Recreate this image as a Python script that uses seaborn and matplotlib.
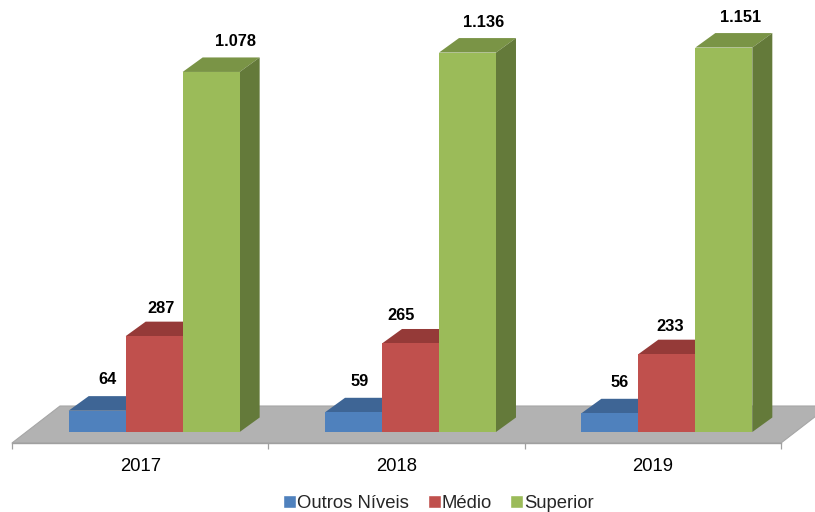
import pandas as pd
import matplotlib
matplotlib.use("Agg")
import matplotlib.pyplot as plt
from matplotlib.patches import Polygon
import seaborn as sns

years = ["2017", "2018", "2019"]
niveis = ["Outros Níveis", "Médio", "Superior"]
outros = [64, 59, 56]
medio = [287, 265, 233]
superior = [1078, 1136, 1151]

front_colors = ["#4F81BD", "#C0504D", "#9BBB59"]
top_colors = ["#3E6595", "#953A38", "#7A9446"]
side_colors = ["#355680", "#7F3230", "#647A3A"]

# hand placed labels in the original, offsets in pixels from bar centre
label_dx = [[10, 6, 10], [7, -9, 3], [24, 16, 17]]
label_dy = [31, 28, 30]

df = pd.DataFrame({
    "ano": years * 3,
    "nivel": [n for n in niveis for _ in years],
    "valor": outros + medio + superior,
})

sns.set_theme(style="white")
plt.rcParams["font.family"] = ["Liberation Sans", "DejaVu Sans"]

W, H = 815, 512
fig = plt.figure(figsize=(W / 100, H / 100), dpi=100)
ax = fig.add_axes([12 / W, (H - 443) / H, 769 / W, 443 / H])

sns.barplot(data=df, x="ano", y="valor", hue="nivel", order=years, hue_order=niveis,
            palette=front_colors, width=0.667, gap=0, saturation=1, ax=ax)

# pixel sizes in data units
px_x = 3 / 769
px_y = 1 / 0.334
ax.set_xlim(-0.5, 2.5)
ax.set_ylim(-11 * px_y, 432 * px_y)

# grey floor of the 3d chart
x0, x1 = ax.get_xlim()
y0 = ax.get_ylim()[0]
floor_dx = 48 * px_x
floor_dy = 37 * px_y
ax.add_patch(Polygon([(x0, y0), (x1, y0), (x1 + floor_dx, y0 + floor_dy), (x0 + floor_dx, y0 + floor_dy)],
                     facecolor="#B2B2B2", edgecolor="#A6A6A6", lw=0.8, clip_on=False, zorder=0.5))

# the 3d view pushes the bars right of the category centre
shift = 14 * px_x

# extrude the bars: top and side faces behind each front face
depth_x = 20 * px_x
depth_y = 14.5 * px_y
for i, cont in enumerate(ax.containers):
    for j, bar in enumerate(cont):
        bar.set_x(bar.get_x() + shift)
        l, w, h = bar.get_x(), bar.get_width(), bar.get_height()
        r = l + w
        z = 1 + i
        ax.add_patch(Polygon([(l, h), (r, h), (r + depth_x, h + depth_y), (l + depth_x, h + depth_y)],
                             facecolor=top_colors[i], edgecolor="none", clip_on=False, zorder=z))
        ax.add_patch(Polygon([(r, 0), (r + depth_x, depth_y), (r + depth_x, h + depth_y), (r, h)],
                             facecolor=side_colors[i], edgecolor="none", clip_on=False, zorder=z))
        bar.set_zorder(z + 0.5)
        bar.set_linewidth(0)
        txt = f"{int(h):,}".replace(",", ".")
        ax.annotate(txt, (l + w / 2, h), xytext=(label_dx[i][j] * 0.72, label_dy[i] * 0.72),
                    textcoords="offset points", ha="center", va="center",
                    fontsize=11.8, fontweight="bold", color="black", zorder=10)

ax.set_xlabel("")
ax.set_ylabel("")
ax.set_yticks([])
ax.set_xticks([-0.5, 0.5, 1.5, 2.5], minor=True)
ax.tick_params(axis="x", which="minor", length=4, width=0.9, color="#A0A0A0", bottom=True)
ax.tick_params(axis="x", which="major", length=0, pad=10.5, labelsize=13.3, labelcolor="black")
sns.despine(ax=ax, left=True)
ax.spines["bottom"].set_color("#A0A0A0")
ax.spines["bottom"].set_linewidth(1.0)
ax.spines["bottom"].set_zorder(0.6)
ax.patch.set_alpha(0)

handles, labels = ax.get_legend_handles_labels()
ax.legend(handles, labels, ncol=3, frameon=False, loc="center",
          bbox_to_anchor=(438.5 / W, (H - 503) / H), bbox_transform=fig.transFigure,
          fontsize=13.3, handlelength=0.7, handleheight=0.7, handletextpad=0.05,
          columnspacing=1.0, borderpad=0, title=None)

fig.savefig("out.png", dpi=100)
plt.close(fig)
